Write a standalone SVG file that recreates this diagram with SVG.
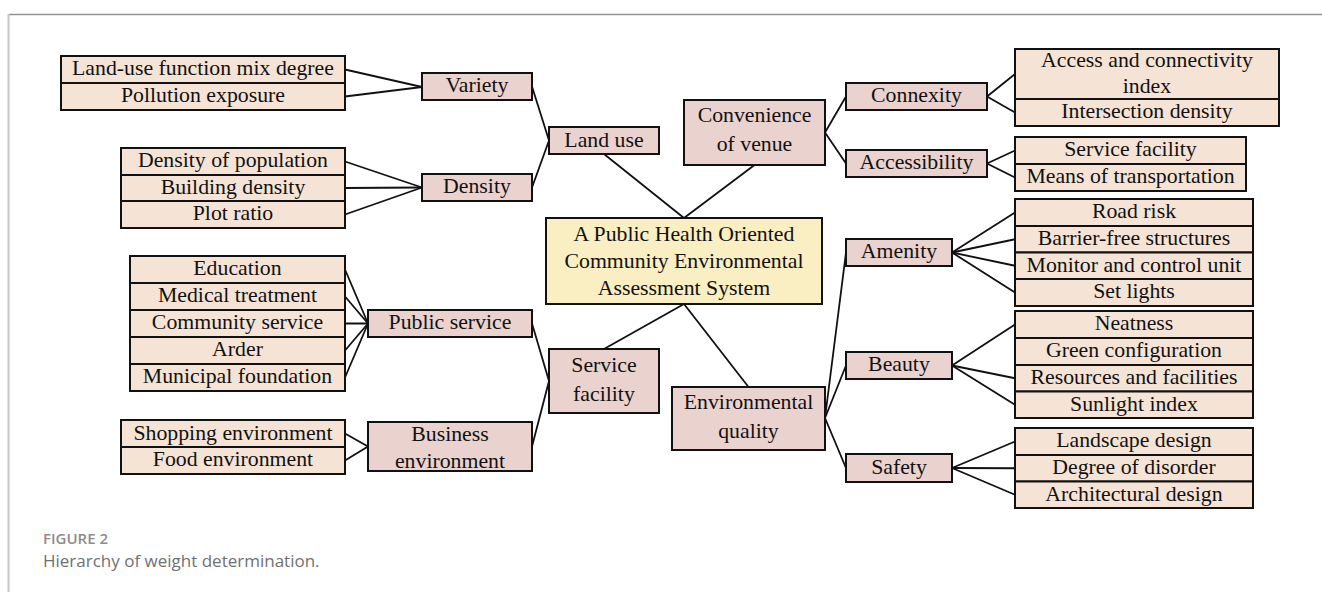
<svg xmlns="http://www.w3.org/2000/svg" width="1322" height="592" viewBox="0 0 1322 592">
  <style>
    .leaf rect { fill: #f5e4d6; stroke: #111; stroke-width: 2; }
    .mid rect { fill: #ead2cf; stroke: #111; stroke-width: 2; }
    .root rect { fill: #faeec3; stroke: #111; stroke-width: 2; }
    text.t { font-family: "Liberation Serif", "Times New Roman", serif; font-size: 20px; fill: #111; text-anchor: middle;
             transform-box: fill-box; transform-origin: center; transform: scaleX(1.09); }
    #connectors line { stroke: #111; stroke-width: 1.8; stroke-linecap: round; }
    .cap1 { font-family: "Open Sans", "Noto Sans", sans-serif; font-size: 15px; font-weight: 600; fill: #8c8c8c; }
    .cap2 { font-family: "Open Sans", "Noto Sans", sans-serif; font-size: 17px; fill: #707070; }
  </style>
  <rect width="1322" height="592" fill="#fff"/>
  <!-- frame -->
  <line x1="9" y1="14.5" x2="1322" y2="14.5" stroke="#929292" stroke-width="1.3"/>
  <line x1="8.5" y1="14" x2="8.5" y2="592" stroke="#c4c4c4" stroke-width="2"/>

  <g id="connectors">
    <!-- land use branch -->
    <line x1="345" y1="69.5" x2="422" y2="87"/>
    <line x1="345" y1="96.5" x2="422" y2="87"/>
    <line x1="345" y1="161.5" x2="422" y2="187.5"/>
    <line x1="345" y1="188" x2="422" y2="187.5"/>
    <line x1="345" y1="214.5" x2="422" y2="187.5"/>
    <line x1="532" y1="86.5" x2="549" y2="140.5"/>
    <line x1="532" y1="187.5" x2="549" y2="140.5"/>
    <line x1="604" y1="154" x2="684" y2="218"/>
    <line x1="754.5" y1="165" x2="684" y2="218"/>
    <!-- convenience branch -->
    <line x1="825" y1="132.5" x2="846" y2="96.5"/>
    <line x1="825" y1="132.5" x2="846" y2="163.5"/>
    <line x1="987" y1="96.5" x2="1015" y2="74"/>
    <line x1="987" y1="96.5" x2="1015" y2="112.5"/>
    <line x1="987" y1="163.5" x2="1015" y2="150.5"/>
    <line x1="987" y1="163.5" x2="1015" y2="177.5"/>
    <!-- root to lower nodes -->
    <line x1="684" y1="304" x2="604" y2="349"/>
    <line x1="684" y1="304" x2="748.5" y2="387"/>
    <!-- environmental quality branch -->
    <line x1="825" y1="418" x2="846" y2="252.5"/>
    <line x1="825" y1="418" x2="846" y2="365.5"/>
    <line x1="825" y1="418" x2="846" y2="468"/>
    <line x1="952" y1="252.5" x2="1015" y2="212.5"/>
    <line x1="952" y1="252.5" x2="1015" y2="239.25"/>
    <line x1="952" y1="252.5" x2="1015" y2="265.75"/>
    <line x1="952" y1="252.5" x2="1015" y2="292.5"/>
    <line x1="952" y1="365.5" x2="1015" y2="324.5"/>
    <line x1="952" y1="365.5" x2="1015" y2="378.25"/>
    <line x1="952" y1="365.5" x2="1015" y2="404.75"/>
    <line x1="952" y1="468" x2="1015" y2="441.5"/>
    <line x1="952" y1="468" x2="1015" y2="468.25"/>
    <line x1="952" y1="468" x2="1015" y2="494.75"/>
    <!-- service facility branch -->
    <line x1="345" y1="269.5" x2="368" y2="323.5"/>
    <line x1="345" y1="296.5" x2="368" y2="323.5"/>
    <line x1="345" y1="323.5" x2="368" y2="323.5"/>
    <line x1="345" y1="350.5" x2="368" y2="323.5"/>
    <line x1="345" y1="377.5" x2="368" y2="323.5"/>
    <line x1="345" y1="433.5" x2="368" y2="446.5"/>
    <line x1="345" y1="460.5" x2="368" y2="446.5"/>
    <line x1="532" y1="323.5" x2="549" y2="381"/>
    <line x1="532" y1="446.5" x2="549" y2="381"/>
  </g>

  <!-- root -->
  <g id="root" class="root">
    <rect x="546" y="218" width="276" height="86"/>
    <text class="t" x="684" y="241">A Public Health Oriented</text>
    <text class="t" x="684" y="268">Community Environmental</text>
    <text class="t" x="684" y="295">Assessment System</text>
  </g>

  <!-- first level -->
  <g id="land-use" class="mid">
    <rect x="549" y="127" width="110" height="27"/>
    <text class="t" x="604" y="146.5">Land use</text>
  </g>
  <g id="convenience" class="mid">
    <rect x="684" y="100" width="141" height="65"/>
    <text class="t" x="754.5" y="122.5">Convenience</text>
    <text class="t" x="754.5" y="151.5">of venue</text>
  </g>
  <g id="service-facility" class="mid">
    <rect x="549" y="349" width="110" height="64"/>
    <text class="t" x="604" y="372">Service</text>
    <text class="t" x="604" y="401">facility</text>
  </g>
  <g id="environmental-quality" class="mid">
    <rect x="672" y="387" width="153" height="63"/>
    <text class="t" x="748.5" y="409.5">Environmental</text>
    <text class="t" x="748.5" y="438.5">quality</text>
  </g>

  <!-- second level -->
  <g id="variety" class="mid">
    <rect x="422" y="73" width="110" height="27"/>
    <text class="t" x="477" y="92.5">Variety</text>
  </g>
  <g id="density" class="mid">
    <rect x="422" y="174" width="110" height="27"/>
    <text class="t" x="477" y="193.5">Density</text>
  </g>
  <g id="connexity" class="mid">
    <rect x="846" y="83" width="141" height="27"/>
    <text class="t" x="916.5" y="102.5">Connexity</text>
  </g>
  <g id="accessibility" class="mid">
    <rect x="846" y="150" width="141" height="27"/>
    <text class="t" x="916.5" y="169.5">Accessibility</text>
  </g>
  <g id="amenity" class="mid">
    <rect x="846" y="239" width="106" height="27"/>
    <text class="t" x="899" y="258.5">Amenity</text>
  </g>
  <g id="beauty" class="mid">
    <rect x="846" y="352" width="106" height="27"/>
    <text class="t" x="899" y="371.5">Beauty</text>
  </g>
  <g id="safety" class="mid">
    <rect x="846" y="454" width="106" height="28"/>
    <text class="t" x="899" y="474">Safety</text>
  </g>
  <g id="public-service" class="mid">
    <rect x="368" y="310" width="164" height="27"/>
    <text class="t" x="450" y="329.5">Public service</text>
  </g>
  <g id="business-environment" class="mid">
    <rect x="368" y="422" width="164" height="49"/>
    <text class="t" x="450" y="441.5">Business</text>
    <text class="t" x="450" y="468">environment</text>
  </g>

  <!-- indicators: variety -->
  <g id="variety-items" class="leaf">
    <g id="mix-degree"><rect x="61" y="56" width="284" height="27"/><text class="t" x="203" y="75.5">Land-use function mix degree</text></g>
    <g id="pollution"><rect x="61" y="83" width="284" height="27"/><text class="t" x="203" y="102.5">Pollution exposure</text></g>
  </g>
  <!-- indicators: density -->
  <g id="density-items" class="leaf">
    <g id="population"><rect x="121" y="148" width="224" height="27"/><text class="t" x="233" y="167.5">Density of population</text></g>
    <g id="building-density"><rect x="121" y="175" width="224" height="26"/><text class="t" x="233" y="194">Building density</text></g>
    <g id="plot-ratio"><rect x="121" y="201" width="224" height="27"/><text class="t" x="233" y="220.5">Plot ratio</text></g>
  </g>
  <!-- indicators: connexity -->
  <g id="connexity-items" class="leaf">
    <g id="connectivity-index"><rect x="1015" y="49" width="264" height="50"/><text class="t" x="1147" y="67">Access and connectivity</text><text class="t" x="1147" y="93">index</text></g>
    <g id="intersection"><rect x="1015" y="99" width="264" height="27"/><text class="t" x="1147" y="118.5">Intersection density</text></g>
  </g>
  <!-- indicators: accessibility -->
  <g id="accessibility-items" class="leaf">
    <g id="service-facility-item"><rect x="1015" y="137" width="231" height="27"/><text class="t" x="1130.5" y="156.5">Service facility</text></g>
    <g id="transportation"><rect x="1015" y="164" width="231" height="27"/><text class="t" x="1130.5" y="183.5">Means of transportation</text></g>
  </g>
  <!-- indicators: amenity -->
  <g id="amenity-items" class="leaf">
    <g id="road-risk"><rect x="1015" y="199" width="238" height="27"/><text class="t" x="1134" y="218.5">Road risk</text></g>
    <g id="barrier-free"><rect x="1015" y="226" width="238" height="26.5"/><text class="t" x="1134" y="245.25">Barrier-free structures</text></g>
    <g id="monitor"><rect x="1015" y="252.5" width="238" height="26.5"/><text class="t" x="1134" y="271.75">Monitor and control unit</text></g>
    <g id="set-lights"><rect x="1015" y="279" width="238" height="27"/><text class="t" x="1134" y="298.5">Set lights</text></g>
  </g>
  <!-- indicators: beauty -->
  <g id="beauty-items" class="leaf">
    <g id="neatness"><rect x="1015" y="311" width="238" height="27"/><text class="t" x="1134" y="330.5">Neatness</text></g>
    <g id="green"><rect x="1015" y="338" width="238" height="27"/><text class="t" x="1134" y="357.5">Green configuration</text></g>
    <g id="resources"><rect x="1015" y="365" width="238" height="26.5"/><text class="t" x="1134" y="384.25">Resources and facilities</text></g>
    <g id="sunlight"><rect x="1015" y="391.5" width="238" height="26.5"/><text class="t" x="1134" y="410.75">Sunlight index</text></g>
  </g>
  <!-- indicators: safety -->
  <g id="safety-items" class="leaf">
    <g id="landscape"><rect x="1015" y="428" width="238" height="27"/><text class="t" x="1134" y="447.5">Landscape design</text></g>
    <g id="disorder"><rect x="1015" y="455" width="238" height="26.5"/><text class="t" x="1134" y="474.25">Degree of disorder</text></g>
    <g id="architecture"><rect x="1015" y="481.5" width="238" height="26.5"/><text class="t" x="1134" y="500.75">Architectural design</text></g>
  </g>
  <!-- indicators: public service -->
  <g id="public-service-items" class="leaf">
    <g id="education"><rect x="130" y="256" width="215" height="27"/><text class="t" x="237.5" y="275.5">Education</text></g>
    <g id="medical"><rect x="130" y="283" width="215" height="27"/><text class="t" x="237.5" y="302.5">Medical treatment</text></g>
    <g id="community-service"><rect x="130" y="310" width="215" height="27"/><text class="t" x="237.5" y="329.5">Community service</text></g>
    <g id="arder"><rect x="130" y="337" width="215" height="27"/><text class="t" x="237.5" y="356.5">Arder</text></g>
    <g id="municipal"><rect x="130" y="364" width="215" height="27"/><text class="t" x="237.5" y="383.5">Municipal foundation</text></g>
  </g>
  <!-- indicators: business environment -->
  <g id="business-items" class="leaf">
    <g id="shopping"><rect x="121" y="420" width="224" height="27"/><text class="t" x="233" y="439.5">Shopping environment</text></g>
    <g id="food"><rect x="121" y="447" width="224" height="27"/><text class="t" x="233" y="466.5">Food environment</text></g>
  </g>

  <!-- caption -->
  <text class="cap1" x="43" y="543.5">FIGURE 2</text>
  <text class="cap2" x="43" y="567">Hierarchy of weight determination.</text>
</svg>
